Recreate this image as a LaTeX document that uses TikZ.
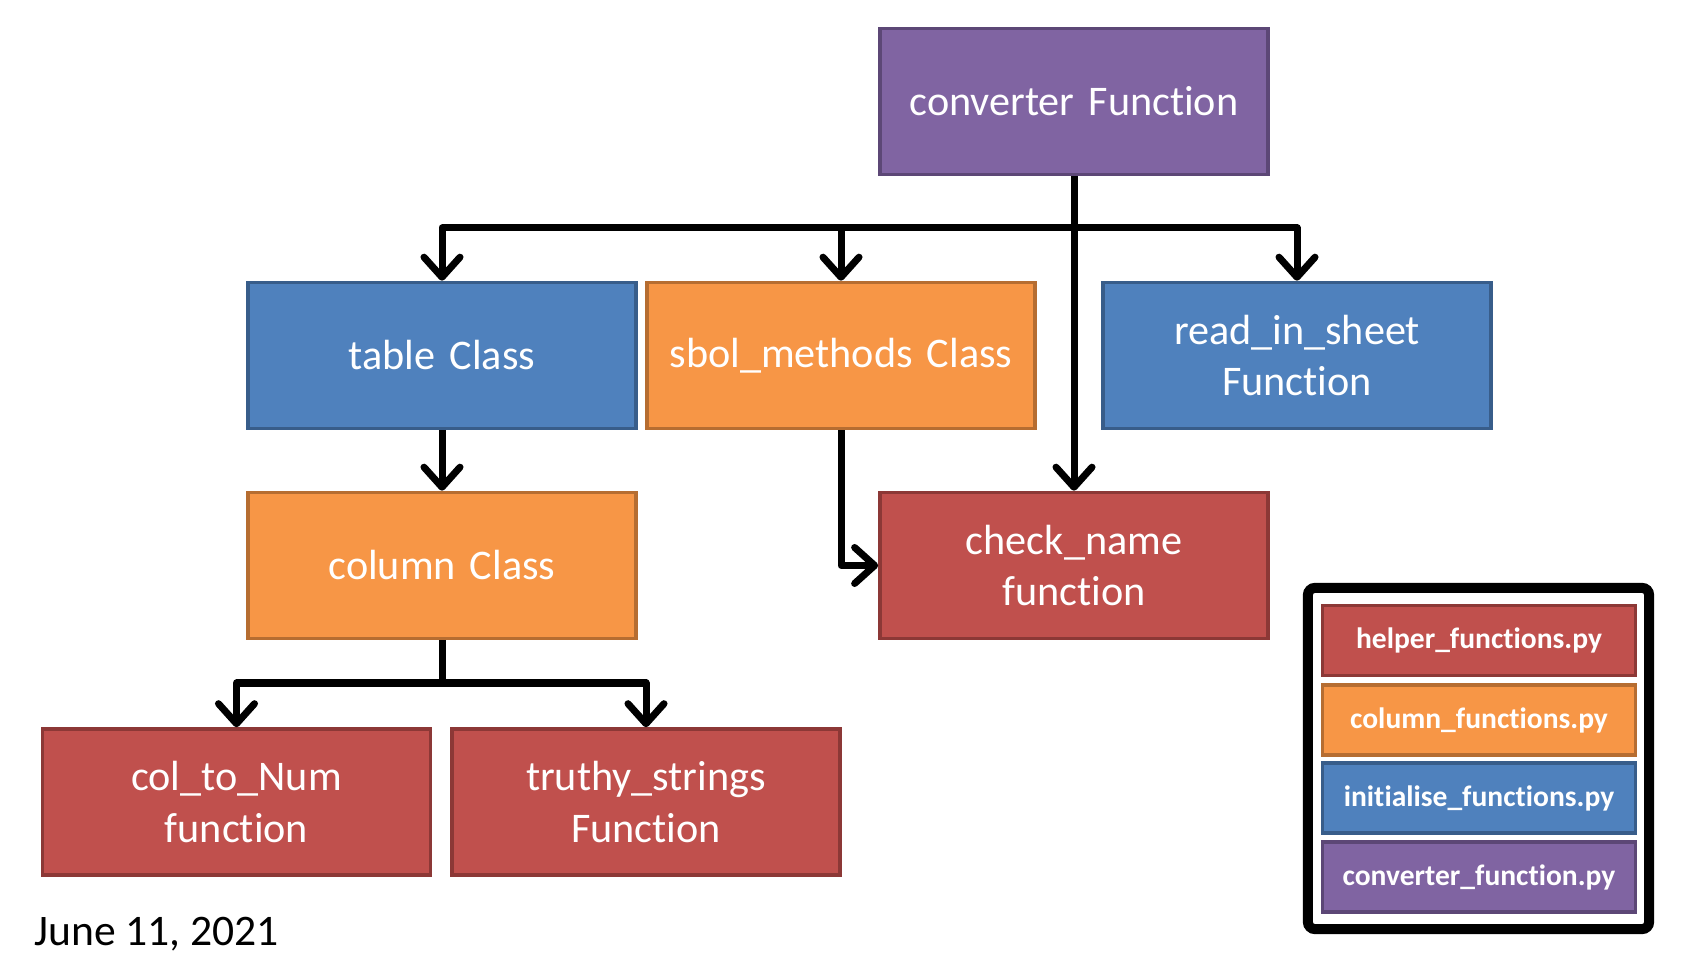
\documentclass[tikz,border=0pt]{standalone}
\usepackage{fontspec}
\setmainfont[RawFeature={-liga;-clig;-dlig;-calt}]{Carlito}
\usepackage{tikz}
\usetikzlibrary{arrows.meta,positioning,calc}
\definecolor{OffPurple}{RGB}{128,100,162}
\definecolor{OffPurpleDk}{RGB}{92,71,118}
\definecolor{OffBlue}{RGB}{79,129,189}
\definecolor{OffBlueDk}{RGB}{56,93,138}
\definecolor{OffOrange}{RGB}{247,150,70}
\definecolor{OffOrangeDk}{RGB}{182,109,49}
\definecolor{OffRed}{RGB}{192,80,77}
\definecolor{OffRedDk}{RGB}{140,56,54}

\begin{document}
\begin{tikzpicture}[
  x=0.01cm,y=-0.01cm,
  blk/.style={rectangle,minimum width=3.88cm,minimum height=1.46cm,
              text width=3.5cm,align=center,line width=0.035cm,
              text=white,font=\fontsize{12}{14.6}\selectfont},
  leg/.style={rectangle,minimum width=3.13cm,minimum height=0.70cm,
              line width=0.035cm,text=white,
              font=\fontsize{8.4}{10}\selectfont\bfseries},
  purp/.style={draw=OffPurpleDk,fill=OffPurple},
  blu/.style={draw=OffBlueDk,fill=OffBlue},
  orng/.style={draw=OffOrangeDk,fill=OffOrange},
  rd/.style={draw=OffRedDk,fill=OffRed},
  link/.style={line width=0.07cm,line join=round,
               -{Straight Barb[length=0.2cm,width=0.36cm,round]}},
]
\useasboundingbox (0,0) rectangle (1684,958);
% top level
\node[blk,purp] (conv) at (1074,101.5) {converter Function};
% second row
\node[blk,blu]  (tab)  at (442,355.5)  {table Class};
\node[blk,orng] (sbol) at (841,355.5)  {sbol\_methods Class};
\node[blk,blu]  (read) at (1297,355.5) {read\_in\_sheet\\Function};
% third row
\node[blk,orng] (col)   at (442,565.5)  {column Class};
\node[blk,rd]   (check) at (1074,565.5) {check\_name\\function};
% bottom row
\node[blk,rd] (ctn)   at (236.5,802) {col\_to\_Num\\function};
\node[blk,rd] (truth) at (646,802)   {truthy\_strings\\Function};
% connectors
\coordinate (bus) at (1074,228);
\coordinate (colbus) at (442,683);
\draw[link] (conv.south) -- (bus) -| (tab.north);
\draw[link] (bus) -| (sbol.north);
\draw[link] (bus) -| (read.north);
\draw[link] (conv.south) -- (check.north);
\draw[link] (tab.south) -- (col.north);
\draw[link] (sbol.south) |- (check.west);
\draw[link] (col.south) -- (colbus) -| (ctn.north);
\draw[link] (colbus) -| (truth.north);
% legend
\node[draw=black,line width=0.1cm,rounded corners=2pt,
      minimum width=3.41cm,minimum height=3.41cm] (legend) at (1478.5,758.5) {};
\node[leg,rd]   (lhelp) at (1479,640.5) {helper\_functions.py};
\node[leg,orng] (lcol)  at (1479,720)   {column\_functions.py};
\node[leg,blu]  (linit) at (1479,798)   {initialise\_functions.py};
\node[leg,purp] (lconv) at (1479,877)   {converter\_function.py};
% date
\node[anchor=west,font=\fontsize{12.4}{14}\selectfont] (date) at (22,934) {June 11, 2021};
\end{tikzpicture}
\end{document}
